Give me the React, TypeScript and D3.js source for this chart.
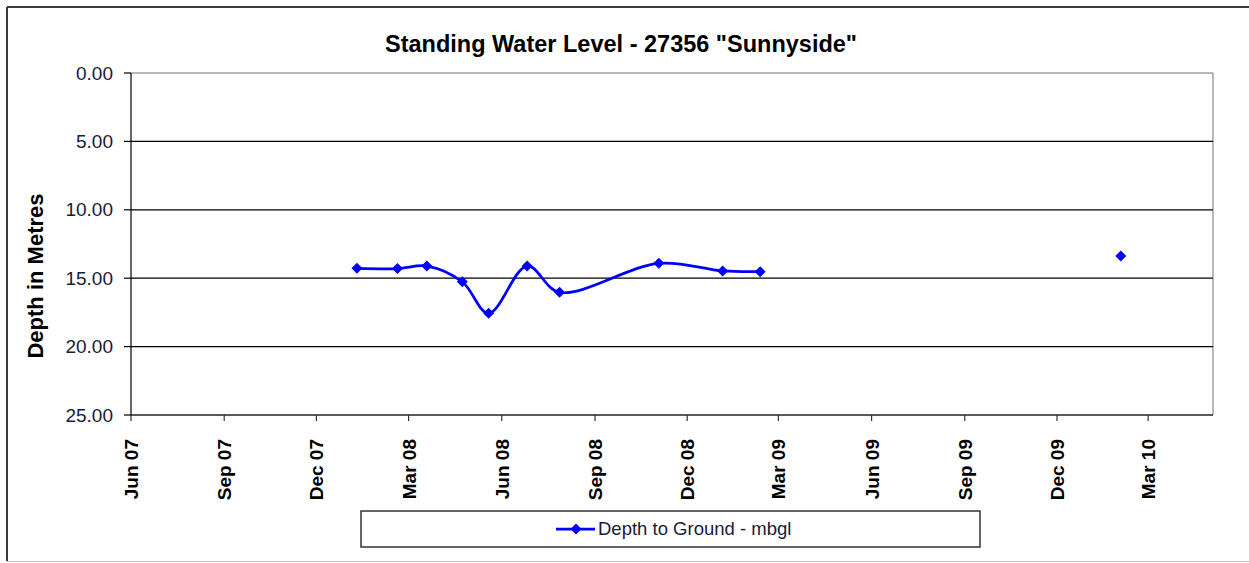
import React from "react";
import * as d3 from "d3";

const dates: string[] = [
  "2008-01-10", "2008-02-19", "2008-03-19", "2008-04-23", "2008-05-19",
  "2008-06-26", "2008-07-28", "2008-11-03", "2009-01-05", "2009-02-11",
  "2010-02-02",
];
const depths: (number | null)[] = [
  14.28, 14.3, 14.11, 15.26, 17.57, 14.11, 16.03, 13.91, 14.47, 14.52, 13.38,
];
// segment id: the last reading is not joined to the others
const segments: number[] = [0, 0, 0, 0, 0, 0, 0, 0, 0, 0, 1];
const yTicks: number[] = [0, 5, 10, 15, 20, 25];
const xTickDates: string[] = [
  "2007-06-01", "2007-09-01", "2007-12-01", "2008-03-01", "2008-06-01",
  "2008-09-01", "2008-12-01", "2009-03-01", "2009-06-01", "2009-09-01",
  "2009-12-01", "2010-03-01",
];
const xTickLabels: string[] = [
  "Jun 07", "Sep 07", "Dec 07", "Mar 08", "Jun 08", "Sep 08", "Dec 08",
  "Mar 09", "Jun 09", "Sep 09", "Dec 09", "Mar 10",
];
const title = 'Standing Water Level - 27356 "Sunnyside"';
const yTitle = "Depth in Metres";
const seriesName = "Depth to Ground - mbgl";

const W = 1249;
const H = 563;
const L = 131, R = 1213, T = 73, B = 415;
const BLUE = "#0000FF";

export default function App() {
  const parse = d3.utcParse("%Y-%m-%d");
  const x = d3
    .scaleUtc()
    .domain([parse("2007-06-01")!, parse("2010-05-04")!])
    .range([L, R]);
  const y = d3.scaleLinear().domain([0, 25]).range([T, B]);

  const pts = dates.map((d, i) => ({
    x: x(parse(d)!),
    y: depths[i] == null ? null : y(depths[i] as number),
    seg: segments[i],
  }));
  const segIds = Array.from(new Set(segments));
  const line = d3
    .line<{ x: number; y: number | null }>()
    .defined((d) => d.y != null)
    .x((d) => d.x)
    .y((d) => d.y as number)
    .curve(d3.curveCatmullRom.alpha(0.5));

  const diamond = (cx: number, cy: number, r = 5.5) =>
    `M${cx},${cy - r}L${cx + r},${cy}L${cx},${cy + r}L${cx - r},${cy}Z`;

  const font = "Arial, 'Liberation Sans', sans-serif";

  return (
    <svg
      width={W}
      height={H}
      style={{ position: "absolute", left: 0, top: 0, background: "#fff" }}
      fontFamily={font}
    >
      {/* outer frame */}
      <line x1={7} y1={7} x2={W} y2={7} stroke="#3a3a3a" strokeWidth={2} />
      <line x1={7} y1={7} x2={7} y2={561} stroke="#3a3a3a" strokeWidth={2} />
      <line x1={7} y1={561.5} x2={W} y2={561.5} stroke="#c8c8c8" strokeWidth={1} />

      <text x={621} y={52} textAnchor="middle" fontSize={23.5} fontWeight="bold" fill="#000">
        {title}
      </text>

      {/* plot border (top/right grey) */}
      <line x1={L} y1={T} x2={R} y2={T} stroke="#a0a0a0" strokeWidth={1.5} />
      <line x1={R} y1={T} x2={R} y2={B} stroke="#a0a0a0" strokeWidth={1.5} />

      {/* gridlines and y ticks */}
      {yTicks.map((t) => (
        <g key={t}>
          {t !== 0 && (
            <line x1={L} x2={R} y1={y(t)} y2={y(t)} stroke="#000" strokeWidth={1.2} />
          )}
          <line x1={L - 7} x2={L} y1={y(t)} y2={y(t)} stroke="#000" strokeWidth={1.2} />
          <text
            x={113}
            y={y(t)}
            dy="0.35em"
            textAnchor="end"
            fontSize={19}
            fill="#1a1a3a"
          >
            {t.toFixed(2)}
          </text>
        </g>
      ))}
      <line x1={L} x2={L} y1={T} y2={B + 1} stroke="#000" strokeWidth={1.2} />

      {/* x axis */}
      <line x1={L} x2={R} y1={B} y2={B} stroke="#333" strokeWidth={1.2} />
      {xTickDates.map((d, i) => {
        const xx = x(parse(d)!);
        return (
          <g key={d}>
            <line x1={xx} x2={xx} y1={B} y2={B + 6} stroke="#333" strokeWidth={1.2} />
            <text
              transform={`translate(${xx + 7},${439}) rotate(-90)`}
              textAnchor="end"
              fontSize={19}
              fontWeight="bold"
              fill="#000"
            >
              {xTickLabels[i]}
            </text>
          </g>
        );
      })}

      <text
        transform={`translate(43,276) rotate(-90)`}
        textAnchor="middle"
        fontSize={22}
        fontWeight="bold"
        fill="#000"
      >
        {yTitle}
      </text>

      {/* series */}
      {segIds.map((s) => {
        const sp = pts.filter((p) => p.seg === s);
        return sp.length > 1 ? (
          <path
            key={s}
            d={line(sp) || ""}
            fill="none"
            stroke={BLUE}
            strokeWidth={2.75}
          />
        ) : null;
      })}
      {pts.map((p, i) =>
        p.y == null ? null : <path key={i} d={diamond(p.x, p.y)} fill={BLUE} />
      )}

      {/* legend */}
      <rect x={361} y={511} width={619} height={36} fill="#fff" stroke="#333" strokeWidth={1.5} />
      <line x1={556} x2={595} y1={529} y2={529} stroke={BLUE} strokeWidth={2.75} />
      <path d={diamond(576, 529)} fill={BLUE} />
      <text x={598} y={529} dy="0.35em" fontSize={18.5} fill="#1a1a3a">
        {seriesName}
      </text>
    </svg>
  );
}
